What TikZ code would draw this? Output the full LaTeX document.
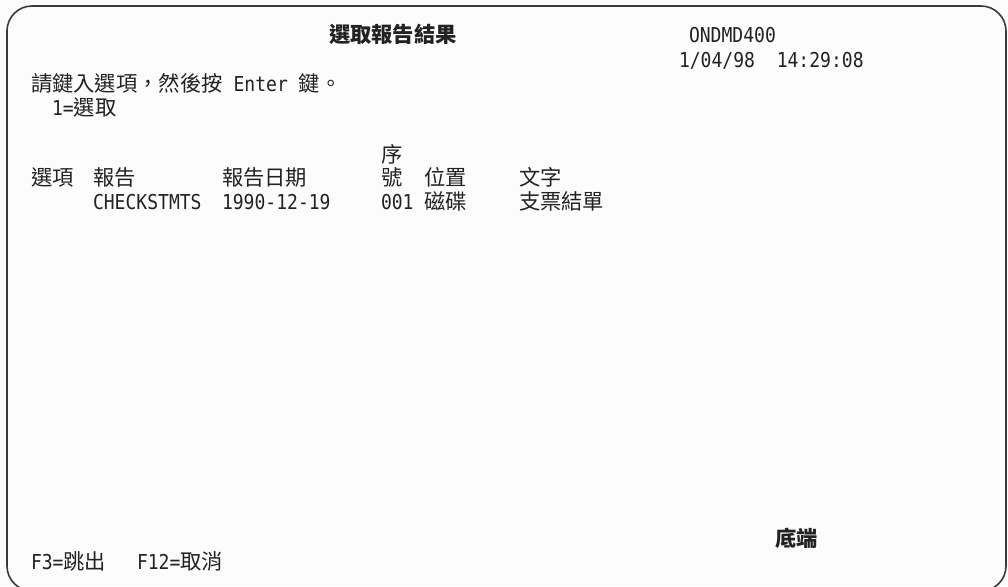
\documentclass[tikz,border=0pt]{standalone}
\usepackage{fontspec}
\setmonofont{DejaVu Sans Mono}[FakeStretch=0.88]
\newfontfamily\cjkfont{Noto Sans CJK TC}
\newcommand{\zh}[1]{{\cjkfont\fontsize{21.3}{24}\selectfont #1}}
\definecolor{screenbg}{HTML}{FCFCFC}
\definecolor{screenink}{HTML}{222222}
\definecolor{screenframe}{HTML}{3A3A3A}

\begin{document}
\begin{tikzpicture}[x=1pt,y=-1pt,
    txt/.style={anchor=base west,inner sep=0pt,outer sep=0pt,text=screenink,
      font=\ttfamily\fontsize{20.5}{24}\selectfont},
    hdr/.style={txt,font=\ttfamily\bfseries\fontsize{20.5}{24}\selectfont}]

  \useasboundingbox[fill=screenbg] (0,0) rectangle (1008,586);
  \clip (0,0) rectangle (1008,586);
  % screen frame, bottom edge runs off the page
  \draw[screenframe,line width=1.6pt,rounded corners=25pt] (7,6) rectangle (1006,591);

  % top lines
  \path (329,42)  node[hdr] (title)   {\zh{選取報告結果}};
  \path (689,42)  node[txt] (sysname) {ONDMD400};
  \path (679,67)  node[txt] (stamp)   {1/04/98~~14:29:08};
  \path (31,91)   node[txt] (prompt)  {\zh{請鍵入選項，然後按}\ Enter\ \zh{鍵。}};
  \path (52,115)  node[txt] (optsel)  {1=\zh{選取}};

  % column heads
  \path (381,162) node[txt] (seqtop)  {\zh{序}};
  \path (31,185)  node[txt] (colopt)  {\zh{選項}};
  \path (93,185)  node[txt] (colrpt)  {\zh{報告}};
  \path (222,185) node[txt] (coldate) {\zh{報告日期}};
  \path (381,185) node[txt] (colseq)  {\zh{號}};
  \path (424,185) node[txt] (colloc)  {\zh{位置}};
  \path (519,185) node[txt] (coltext) {\zh{文字}};

  % report row
  \path (93,209)  node[txt] (rptname) {CHECKSTMTS};
  \path (222,209) node[txt] (rptdate) {1990-12-19};
  \path (381,209) node[txt] (rptseq)  {001};
  \path (424,209) node[txt] (rptloc)  {\zh{磁碟}};
  \path (519,209) node[txt] (rpttext) {\zh{支票結單}};

  % bottom lines
  \path (775,546) node[hdr] (bottom)  {\zh{底端}};
  \path (31,569)  node[txt] (fexit)   {F3=\zh{跳出}};
  \path (137,569) node[txt] (fcancel) {F12=\zh{取消}};

\end{tikzpicture}
\end{document}
